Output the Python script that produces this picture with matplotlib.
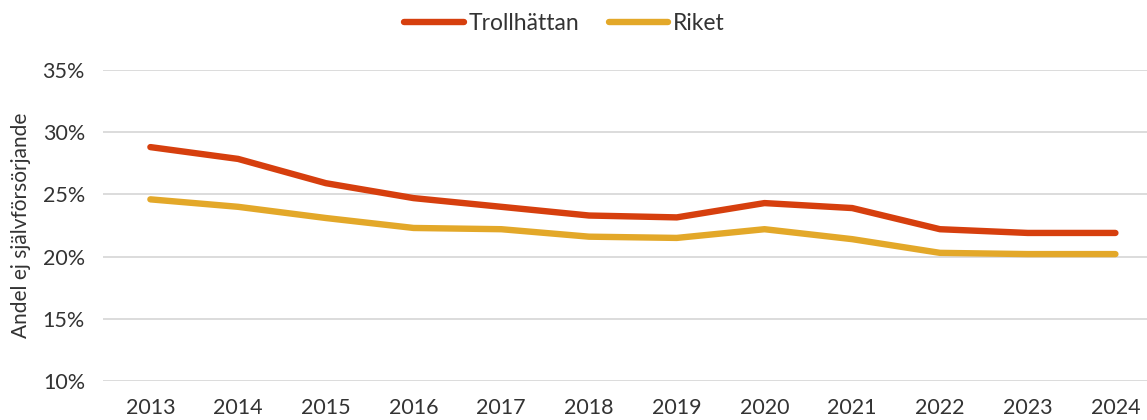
import matplotlib.pyplot as plt
from matplotlib.ticker import FuncFormatter

years = [2013, 2014, 2015, 2016, 2017, 2018, 2019, 2020, 2021, 2022, 2023, 2024]
trollhattan = [28.8, 27.85, 25.9, 24.7, 24.0, 23.3, 23.15, 24.3, 23.9, 22.2, 21.9, 21.9]
riket = [24.6, 24.0, 23.1, 22.3, 22.2, 21.6, 21.5, 22.2, 21.4, 20.3, 20.2, 20.2]

plt.rcParams['font.family'] = ['Lato', 'DejaVu Sans']
text_col = '#333333'

fig = plt.figure(figsize=(11.47, 4.2), dpi=100)
ax = fig.add_axes([0.0898, 0.0929, 0.9102, 0.7405])

ax.plot(years, trollhattan, color='#D63F0E', lw=4.6, solid_capstyle='round',
        solid_joinstyle='round', label='Trollhättan')
ax.plot(years, riket, color='#E3A829', lw=4.6, solid_capstyle='round',
        solid_joinstyle='round', label='Riket')

ax.set_ylim(10, 35)
ax.set_yticks(range(10, 36, 5))
ax.yaxis.set_major_formatter(FuncFormatter(lambda v, p: f'{v:.0f}%'))
ax.set_xlim(2012.46, 2024.36)
ax.set_xticks(years)

ax.grid(axis='y', color='#d9d9d9', lw=1.3)
ax.set_axisbelow(True)
for s in ax.spines.values():
    s.set_visible(False)
ax.tick_params(length=0, labelsize=15.5, labelcolor=text_col)
ax.tick_params(axis='y', pad=13)
ax.tick_params(axis='x', pad=12)

ax.set_ylabel('Andel ej självförsörjande', fontsize=15, color=text_col)
ax.yaxis.set_label_coords(-0.069, 0.5)

fig.legend(loc='upper center', bbox_to_anchor=(0.492, 1.018), ncol=2, frameon=False,
           fontsize=16.5, handlelength=2.6, handletextpad=0.2, columnspacing=1.3,
           labelcolor=text_col)

fig.savefig('out.png', dpi=100)
